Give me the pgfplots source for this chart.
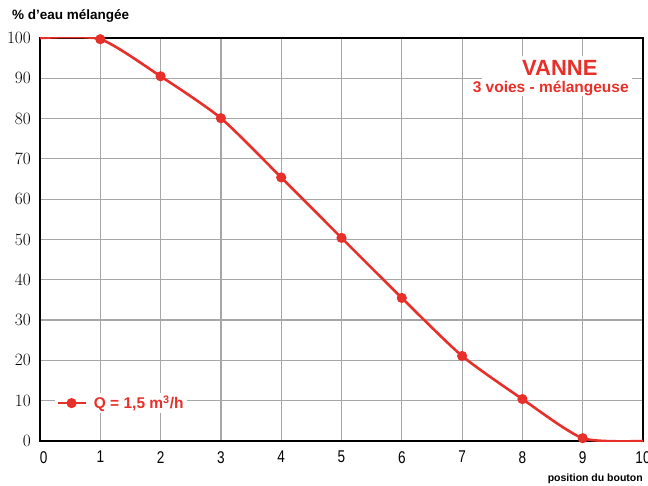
\documentclass[border=0pt]{standalone}
\usepackage{pgfplots}
\pgfplotsset{compat=1.18}
\usepackage{fontspec}
\setmainfont{Liberation Sans}
\newfontfamily\tickfont{Liberation Sans}[FakeStretch=0.8]
\definecolor{vred}{HTML}{E8302A}
\begin{document}
\begin{tikzpicture}
\useasboundingbox (-40pt,-44pt) rectangle (608pt,441pt);
\begin{axis}[
  at={(0pt,0pt)}, anchor=south west,
  scale only axis, width=603pt, height=403pt,
  xmin=0, xmax=10, ymin=0, ymax=100,
  xtick={0,...,10}, ytick={0,10,...,100},
  xticklabels={\makebox[0pt][l]{0},1,2,3,4,5,6,7,8,9,10},
  grid=major, major grid style={color=black!35, line width=1.2pt},
  axis line style={black, line width=1.4pt},
  major tick length=0pt,
  tick label style={font=\tickfont\fontsize{17}{17}\selectfont},
  xticklabel style={inner sep=0pt, yshift=-10pt},
  yticklabel style={inner sep=0pt, xshift=-9pt},
  legend style={at={(axis description cs:0.025,0.094)}, anchor=west, draw=none, fill=white, inner sep=1pt, font=\bfseries\fontsize{15.5}{16}\selectfont, text=vred, /tikz/every odd column/.style={column sep=5pt}},
  legend image code/.code={\draw[mark indices={2}] plot coordinates {(0pt,0pt)(14pt,0pt)(28pt,0pt)};},
]
\addplot[vred, line width=2.6pt, smooth, tension=0.4, mark=*, mark size=3.7pt, mark indices={2,3,4,5,6,7,8,9,10}, mark options={solid}] coordinates {
(0,100) (1,99.7) (2,90.5) (3,80.1) (4,65.4) (5,50.4) (6,35.5) (7,21.1) (8,10.4) (9,0.7) (10,0)
};
\addlegendentry{Q = 1,5 m\textsuperscript{3}/h}
\fill[white] (axis cs:7.33,85.6) rectangle (axis cs:9.82,95.5);
\node[text=vred, font=\bfseries\fontsize{22}{22}\selectfont] at (axis cs:8.62,92.6) {VANNE};
\node[text=vred, font=\bfseries\fontsize{15.5}{15.5}\selectfont] at (axis cs:8.47,87.6) {3 voies - mélangeuse};
\end{axis}
\node[inner sep=0pt, anchor=base west, font=\bfseries\fontsize{13.5}{14}\selectfont] at (-28pt,421pt) {\% d'eau mélangée};
\node[inner sep=0pt, anchor=base east, font=\bfseries\fontsize{10.5}{11}\selectfont] at (603pt,-40pt) {position du bouton};
\end{tikzpicture}
\end{document}
